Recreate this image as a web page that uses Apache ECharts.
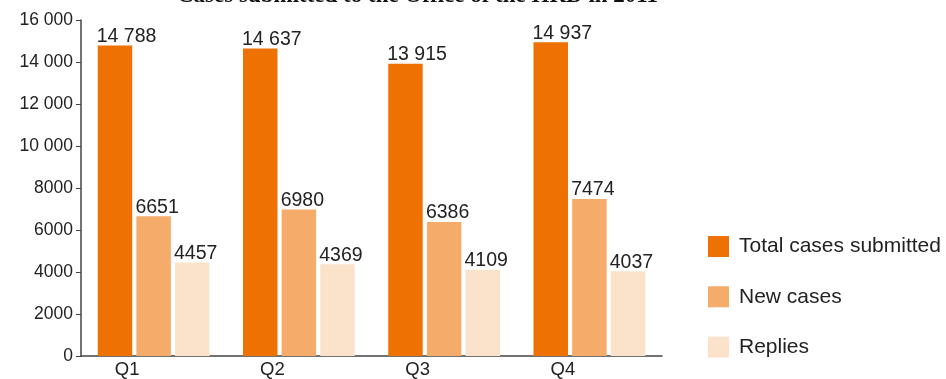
<!DOCTYPE html>
<html>
<head>
<meta charset="utf-8">
<script src="https://cdn.jsdelivr.net/npm/echarts@6/dist/echarts.min.js"></script>
<style>
  html, body { margin: 0; padding: 0; background: #fff; }
  #chart { width: 946px; height: 379px; }
</style>
</head>
<body>
<div id="chart"></div>
<script>
// Quarterly case figures, 2011
const quarters = ['Q1', 'Q2', 'Q3', 'Q4'];
const totalCases = [14788, 14637, 13915, 14937];
const newCases = [6651, 6980, 6386, 7474];
const replies = [4457, 4369, 4109, 4037];
const seriesNames = ['Total cases submitted', 'New cases', 'Replies'];

const FONT = '"Liberation Sans", Arial, Helvetica, sans-serif';

// Thousands separated by a space only from five digits up
function fmt(v) {
  const s = String(Math.round(v));
  return s.length > 4 ? s.replace(/\B(?=(\d{3})+(?!\d))/g, ' ') : s;
}

const chart = echarts.init(document.getElementById('chart'));

function barSeries(name, data, color) {
  return {
    name: name,
    type: 'bar',
    data: data,
    barWidth: 34.5,
    barGap: '12%',
    itemStyle: { color: color },
    label: {
      show: true,
      position: [-1, 1],
      align: 'left',
      verticalAlign: 'bottom',
      color: '#222',
      fontFamily: FONT,
      fontSize: 19.5,
      formatter: p => fmt(p.value)
    }
  };
}

chart.setOption({
  animation: false,
  title: {
    text: 'Cases submitted to the Office of the HRD in 2011',
    left: 172,
    top: -20,
    textStyle: {
      fontFamily: '"Liberation Serif", "Times New Roman", serif',
      fontWeight: 'bold',
      fontSize: 23,
      color: '#111'
    }
  },
  legend: {
    orient: 'vertical',
    left: 703,
    top: 231,
    itemWidth: 21,
    itemHeight: 21,
    itemGap: 29.3,
    icon: 'rect',
    data: seriesNames,
    textStyle: { fontFamily: FONT, fontSize: 21, color: '#222', padding: [0, 0, 0, 5] }
  },
  grid: { left: 81, right: 284, top: 20, bottom: 22, containLabel: false },
  xAxis: {
    type: 'category',
    data: quarters,
    axisLine: { lineStyle: { color: '#444', width: 1.5 } },
    axisTick: { show: false },
    axisLabel: {
      color: '#222',
      fontFamily: FONT,
      fontSize: 18.5,
      margin: 4,
      padding: [0, 53, 0, 0]
    }
  },
  yAxis: {
    type: 'value',
    min: 0,
    max: 16000,
    interval: 2000,
    splitLine: { show: false },
    axisLine: { show: true, lineStyle: { color: '#444', width: 1.5 } },
    axisTick: { show: true, length: 5, lineStyle: { color: '#444' } },
    axisLabel: {
      color: '#222',
      fontFamily: FONT,
      fontSize: 17.5,
      margin: 8,
      formatter: fmt
    }
  },
  series: [
    barSeries(seriesNames[0], totalCases, '#ee7203'),
    barSeries(seriesNames[1], newCases, '#f5ab69'),
    barSeries(seriesNames[2], replies, '#fbe3cb')
  ]
});
</script>
</body>
</html>
